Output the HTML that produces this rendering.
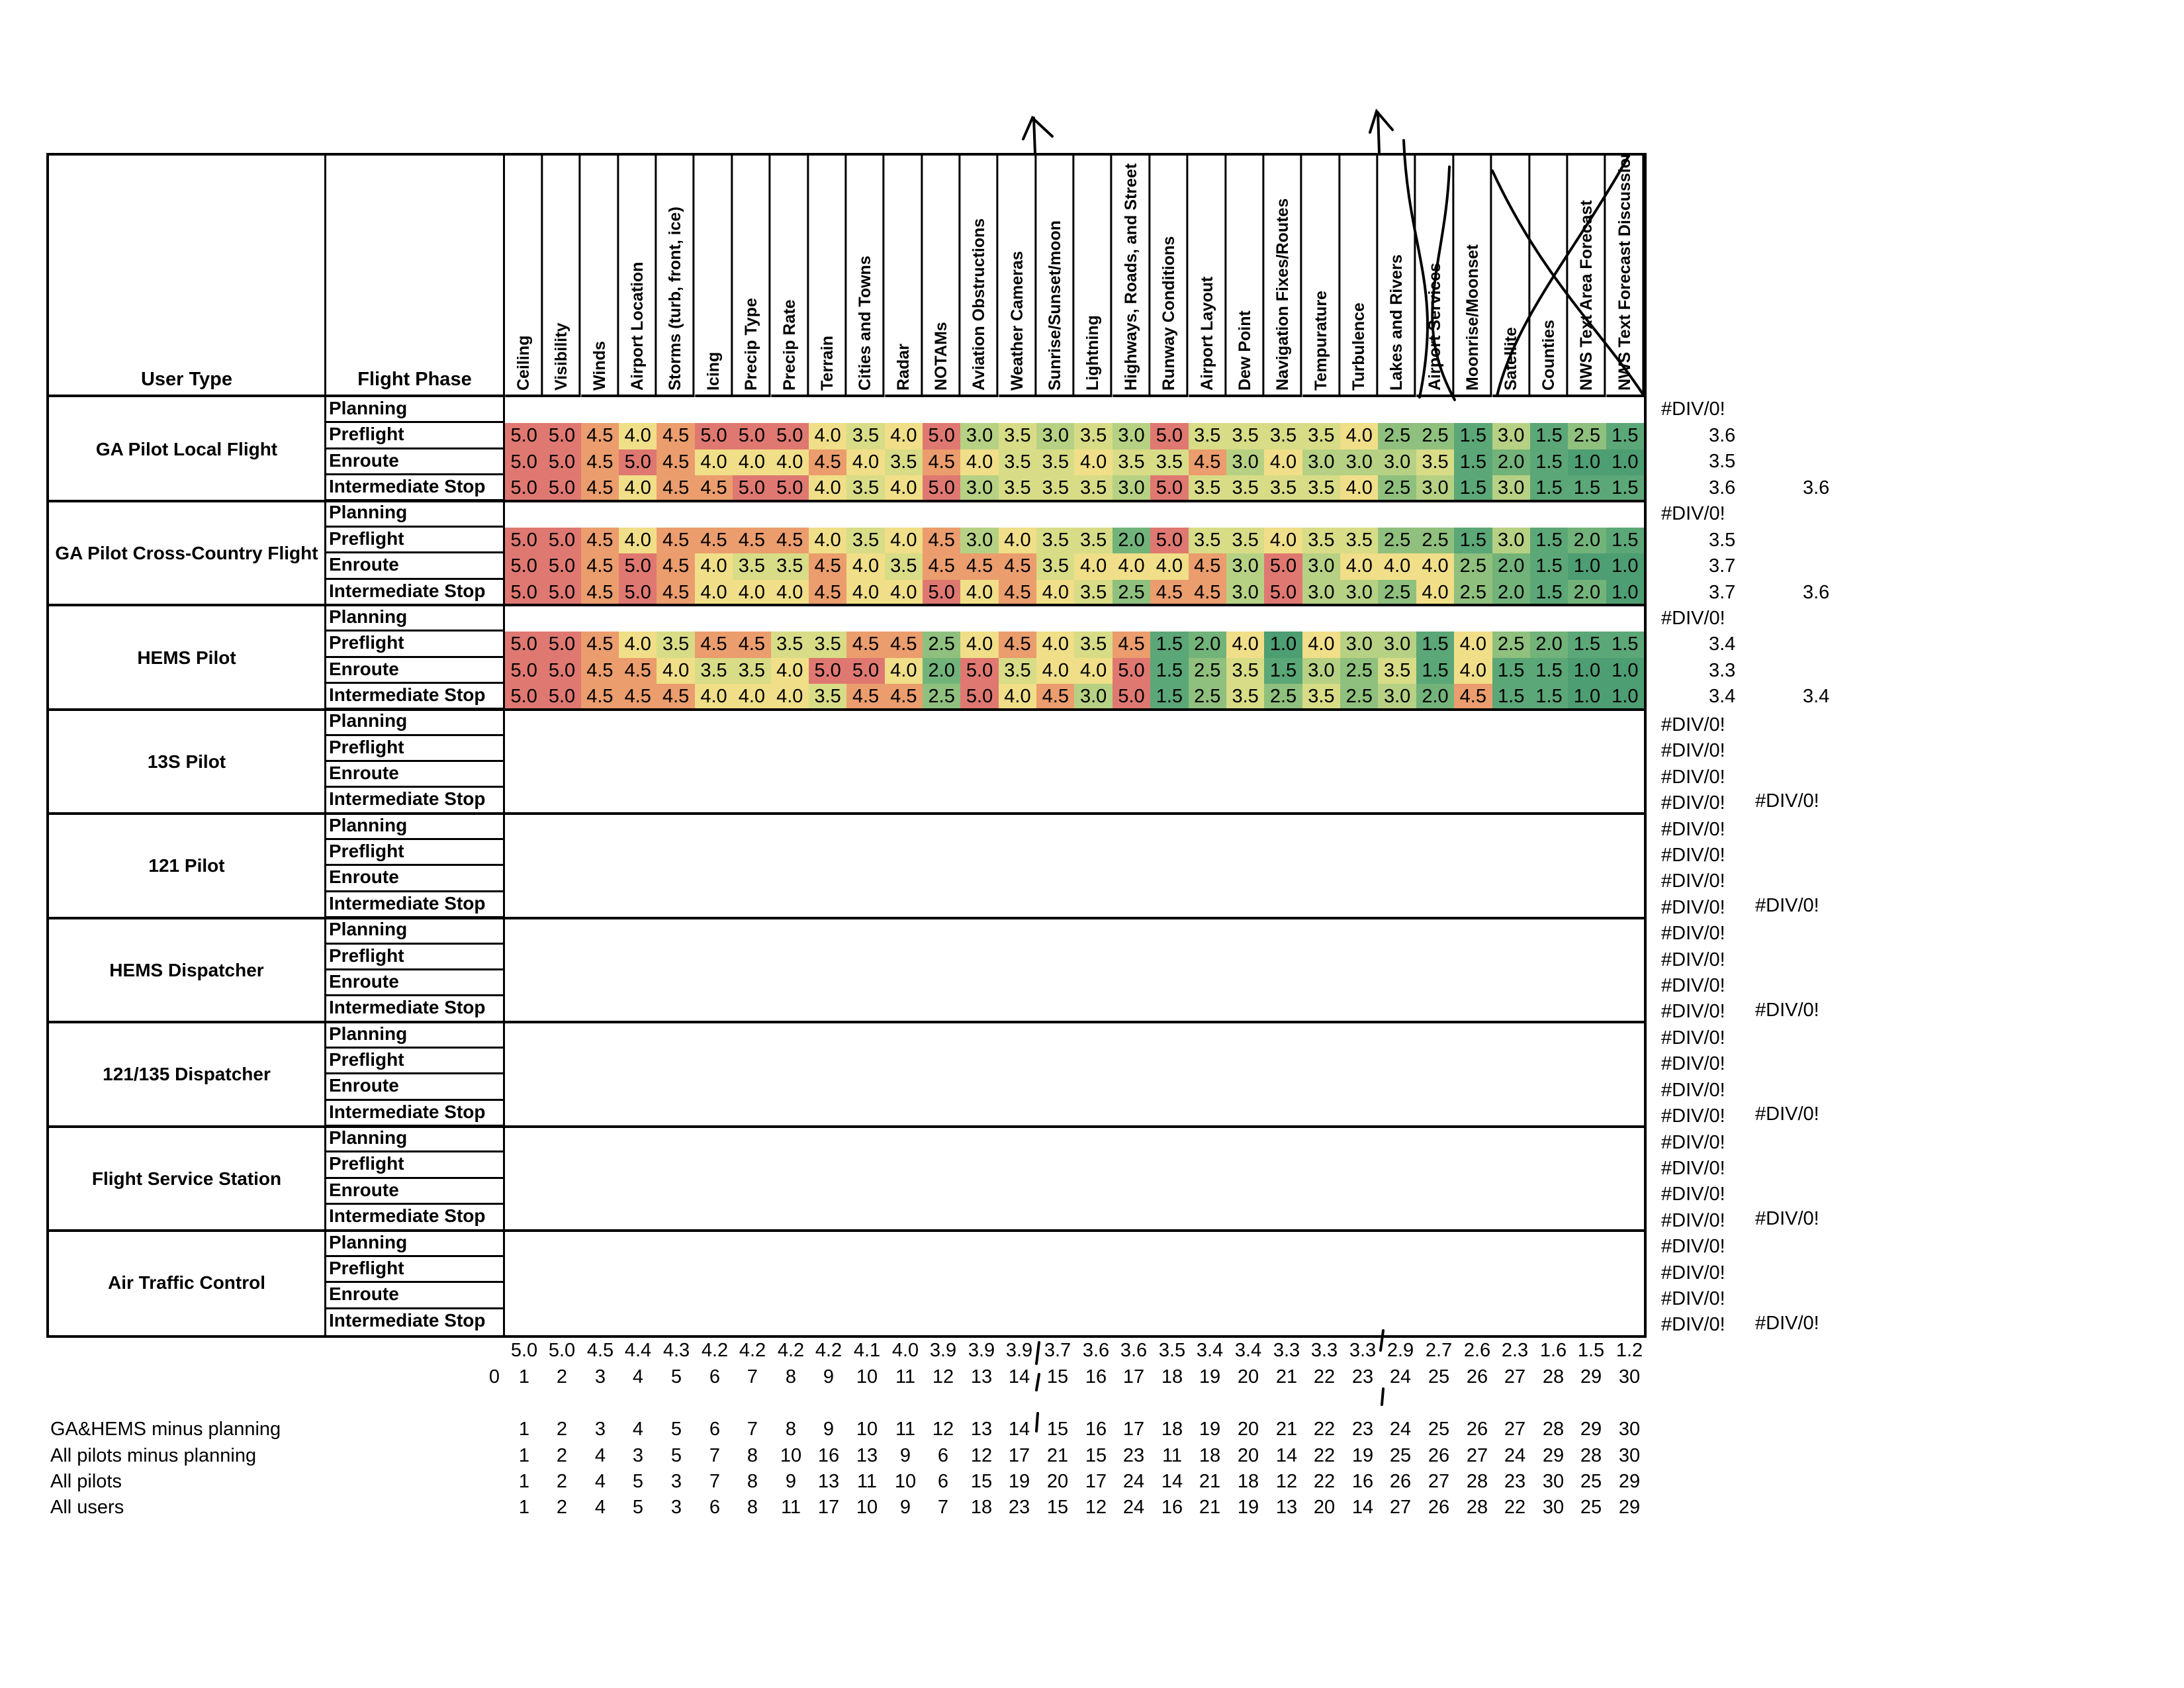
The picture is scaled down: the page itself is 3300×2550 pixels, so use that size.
<!DOCTYPE html>
<html><head><meta charset="utf-8"><style>
body{margin:0;width:3300px;height:2550px;background:#fff;position:relative;overflow:hidden;font-family:"Liberation Sans Narrow","Liberation Sans",sans-serif;color:#000}
#t{position:absolute;left:70px;top:231px;width:2418px;height:1790px;border:4px solid #000;box-sizing:border-box;display:grid;grid-template-columns:419px 270px repeat(30,1fr);grid-template-rows:365px repeat(36,1fr)}
.h0{font-weight:bold;font-size:29px;display:flex;align-items:flex-end;justify-content:center;padding-bottom:6px;border-bottom:4px solid #000;border-right:3px solid #000}
.hc{writing-mode:vertical-rl;transform:rotate(180deg);text-align:left;font-weight:bold;font-size:25px;border-left:3px solid #000;border-top:4px solid #000;padding-top:6px;line-height:57px;white-space:nowrap;overflow:hidden}
.u{grid-column:1;display:flex;align-items:center;justify-content:center;font-weight:bold;font-size:28px;border-right:3px solid #000}
.p{font-weight:bold;font-size:28px;border-bottom:3px solid #000;border-right:3px solid #000;padding-left:4px;line-height:34px;white-space:nowrap;overflow:hidden}
.e{grid-column:span 30}
#t span{font-size:29px;text-align:center;line-height:39px}
.a{background:#df7871}.b{background:#eb9d6d}.c{background:#f0df88}.d{background:#d8dc86}.f{background:#b6d183}.g{background:#8fc07d}.k{background:#72b37a}.m{background:#5ba777}.n{background:#4d9e72}
.gl{position:absolute;left:70px;width:2418px;height:4px;background:#000}
.r{position:absolute;font-size:29px;white-space:nowrap}
.row{position:absolute;left:0;font-size:29px;height:36px}
.row i{font-style:normal;position:absolute;width:58px;text-align:center}
.lb{position:absolute;left:76px;font-size:29px}
</style></head><body>
<div id="t">
<div class="h0">User Type</div><div class="h0">Flight Phase</div>
<div class="hc">Ceiling</div><div class="hc">Visibility</div><div class="hc">Winds</div><div class="hc">Airport Location</div><div class="hc">Storms (turb, front, ice)</div><div class="hc">Icing</div><div class="hc">Precip Type</div><div class="hc">Precip Rate</div><div class="hc">Terrain</div><div class="hc">Cities and Towns</div><div class="hc">Radar</div><div class="hc">NOTAMs</div><div class="hc">Aviation Obstructions</div><div class="hc">Weather Cameras</div><div class="hc">Sunrise/Sunset/moon</div><div class="hc">Lightning</div><div class="hc">Highways, Roads, and Street</div><div class="hc">Runway Conditions</div><div class="hc">Airport Layout</div><div class="hc">Dew Point</div><div class="hc">Navigation Fixes/Routes</div><div class="hc">Tempurature</div><div class="hc">Turbulence</div><div class="hc">Lakes and Rivers</div><div class="hc">Airport Services</div><div class="hc">Moonrise/Moonset</div><div class="hc">Satellite</div><div class="hc">Counties</div><div class="hc">NWS Text Area Forecast</div><div class="hc">NWS Text Forecast Discussion</div>

<div class="u" style="grid-row:2/6">GA Pilot Local Flight</div>
<div class="p">Planning</div><div class="e"></div>
<div class="p">Preflight</div><span class="a">5.0</span><span class="a">5.0</span><span class="b">4.5</span><span class="c">4.0</span><span class="b">4.5</span><span class="a">5.0</span><span class="a">5.0</span><span class="a">5.0</span><span class="c">4.0</span><span class="d">3.5</span><span class="c">4.0</span><span class="a">5.0</span><span class="f">3.0</span><span class="d">3.5</span><span class="f">3.0</span><span class="d">3.5</span><span class="f">3.0</span><span class="a">5.0</span><span class="d">3.5</span><span class="d">3.5</span><span class="d">3.5</span><span class="d">3.5</span><span class="c">4.0</span><span class="g">2.5</span><span class="g">2.5</span><span class="m">1.5</span><span class="f">3.0</span><span class="m">1.5</span><span class="g">2.5</span><span class="m">1.5</span>
<div class="p">Enroute</div><span class="a">5.0</span><span class="a">5.0</span><span class="b">4.5</span><span class="a">5.0</span><span class="b">4.5</span><span class="c">4.0</span><span class="c">4.0</span><span class="c">4.0</span><span class="b">4.5</span><span class="c">4.0</span><span class="d">3.5</span><span class="b">4.5</span><span class="c">4.0</span><span class="d">3.5</span><span class="d">3.5</span><span class="c">4.0</span><span class="d">3.5</span><span class="d">3.5</span><span class="b">4.5</span><span class="f">3.0</span><span class="c">4.0</span><span class="f">3.0</span><span class="f">3.0</span><span class="f">3.0</span><span class="d">3.5</span><span class="m">1.5</span><span class="k">2.0</span><span class="m">1.5</span><span class="n">1.0</span><span class="n">1.0</span>
<div class="p">Intermediate Stop</div><span class="a">5.0</span><span class="a">5.0</span><span class="b">4.5</span><span class="c">4.0</span><span class="b">4.5</span><span class="b">4.5</span><span class="a">5.0</span><span class="a">5.0</span><span class="c">4.0</span><span class="d">3.5</span><span class="c">4.0</span><span class="a">5.0</span><span class="f">3.0</span><span class="d">3.5</span><span class="d">3.5</span><span class="d">3.5</span><span class="f">3.0</span><span class="a">5.0</span><span class="d">3.5</span><span class="d">3.5</span><span class="d">3.5</span><span class="d">3.5</span><span class="c">4.0</span><span class="g">2.5</span><span class="f">3.0</span><span class="m">1.5</span><span class="f">3.0</span><span class="m">1.5</span><span class="m">1.5</span><span class="m">1.5</span>

<div class="u" style="grid-row:6/10">GA Pilot Cross-Country Flight</div>
<div class="p">Planning</div><div class="e"></div>
<div class="p">Preflight</div><span class="a">5.0</span><span class="a">5.0</span><span class="b">4.5</span><span class="c">4.0</span><span class="b">4.5</span><span class="b">4.5</span><span class="b">4.5</span><span class="b">4.5</span><span class="c">4.0</span><span class="d">3.5</span><span class="c">4.0</span><span class="b">4.5</span><span class="f">3.0</span><span class="c">4.0</span><span class="d">3.5</span><span class="d">3.5</span><span class="k">2.0</span><span class="a">5.0</span><span class="d">3.5</span><span class="d">3.5</span><span class="c">4.0</span><span class="d">3.5</span><span class="d">3.5</span><span class="g">2.5</span><span class="g">2.5</span><span class="m">1.5</span><span class="f">3.0</span><span class="m">1.5</span><span class="k">2.0</span><span class="m">1.5</span>
<div class="p">Enroute</div><span class="a">5.0</span><span class="a">5.0</span><span class="b">4.5</span><span class="a">5.0</span><span class="b">4.5</span><span class="c">4.0</span><span class="d">3.5</span><span class="d">3.5</span><span class="b">4.5</span><span class="c">4.0</span><span class="d">3.5</span><span class="b">4.5</span><span class="b">4.5</span><span class="b">4.5</span><span class="d">3.5</span><span class="c">4.0</span><span class="c">4.0</span><span class="c">4.0</span><span class="b">4.5</span><span class="f">3.0</span><span class="a">5.0</span><span class="f">3.0</span><span class="c">4.0</span><span class="c">4.0</span><span class="c">4.0</span><span class="g">2.5</span><span class="k">2.0</span><span class="m">1.5</span><span class="n">1.0</span><span class="n">1.0</span>
<div class="p">Intermediate Stop</div><span class="a">5.0</span><span class="a">5.0</span><span class="b">4.5</span><span class="a">5.0</span><span class="b">4.5</span><span class="c">4.0</span><span class="c">4.0</span><span class="c">4.0</span><span class="b">4.5</span><span class="c">4.0</span><span class="c">4.0</span><span class="a">5.0</span><span class="c">4.0</span><span class="b">4.5</span><span class="c">4.0</span><span class="d">3.5</span><span class="g">2.5</span><span class="b">4.5</span><span class="b">4.5</span><span class="f">3.0</span><span class="a">5.0</span><span class="f">3.0</span><span class="f">3.0</span><span class="g">2.5</span><span class="c">4.0</span><span class="g">2.5</span><span class="k">2.0</span><span class="m">1.5</span><span class="k">2.0</span><span class="n">1.0</span>

<div class="u" style="grid-row:10/14">HEMS Pilot</div>
<div class="p">Planning</div><div class="e"></div>
<div class="p">Preflight</div><span class="a">5.0</span><span class="a">5.0</span><span class="b">4.5</span><span class="c">4.0</span><span class="d">3.5</span><span class="b">4.5</span><span class="b">4.5</span><span class="d">3.5</span><span class="d">3.5</span><span class="b">4.5</span><span class="b">4.5</span><span class="g">2.5</span><span class="c">4.0</span><span class="b">4.5</span><span class="c">4.0</span><span class="d">3.5</span><span class="b">4.5</span><span class="m">1.5</span><span class="k">2.0</span><span class="c">4.0</span><span class="n">1.0</span><span class="c">4.0</span><span class="f">3.0</span><span class="f">3.0</span><span class="m">1.5</span><span class="c">4.0</span><span class="g">2.5</span><span class="k">2.0</span><span class="m">1.5</span><span class="m">1.5</span>
<div class="p">Enroute</div><span class="a">5.0</span><span class="a">5.0</span><span class="b">4.5</span><span class="b">4.5</span><span class="c">4.0</span><span class="d">3.5</span><span class="d">3.5</span><span class="c">4.0</span><span class="a">5.0</span><span class="a">5.0</span><span class="c">4.0</span><span class="k">2.0</span><span class="a">5.0</span><span class="d">3.5</span><span class="c">4.0</span><span class="c">4.0</span><span class="a">5.0</span><span class="m">1.5</span><span class="g">2.5</span><span class="d">3.5</span><span class="m">1.5</span><span class="f">3.0</span><span class="g">2.5</span><span class="d">3.5</span><span class="m">1.5</span><span class="c">4.0</span><span class="m">1.5</span><span class="m">1.5</span><span class="n">1.0</span><span class="n">1.0</span>
<div class="p">Intermediate Stop</div><span class="a">5.0</span><span class="a">5.0</span><span class="b">4.5</span><span class="b">4.5</span><span class="b">4.5</span><span class="c">4.0</span><span class="c">4.0</span><span class="c">4.0</span><span class="d">3.5</span><span class="b">4.5</span><span class="b">4.5</span><span class="g">2.5</span><span class="a">5.0</span><span class="c">4.0</span><span class="b">4.5</span><span class="f">3.0</span><span class="a">5.0</span><span class="m">1.5</span><span class="g">2.5</span><span class="d">3.5</span><span class="g">2.5</span><span class="d">3.5</span><span class="g">2.5</span><span class="f">3.0</span><span class="k">2.0</span><span class="b">4.5</span><span class="m">1.5</span><span class="m">1.5</span><span class="n">1.0</span><span class="n">1.0</span>

<div class="u" style="grid-row:14/18">13S Pilot</div>
<div class="p">Planning</div><div class="e"></div><div class="p">Preflight</div><div class="e"></div><div class="p">Enroute</div><div class="e"></div><div class="p">Intermediate Stop</div><div class="e"></div>
<div class="u" style="grid-row:18/22">121 Pilot</div>
<div class="p">Planning</div><div class="e"></div><div class="p">Preflight</div><div class="e"></div><div class="p">Enroute</div><div class="e"></div><div class="p">Intermediate Stop</div><div class="e"></div>
<div class="u" style="grid-row:22/26">HEMS Dispatcher</div>
<div class="p">Planning</div><div class="e"></div><div class="p">Preflight</div><div class="e"></div><div class="p">Enroute</div><div class="e"></div><div class="p">Intermediate Stop</div><div class="e"></div>
<div class="u" style="grid-row:26/30">121/135 Dispatcher</div>
<div class="p">Planning</div><div class="e"></div><div class="p">Preflight</div><div class="e"></div><div class="p">Enroute</div><div class="e"></div><div class="p">Intermediate Stop</div><div class="e"></div>
<div class="u" style="grid-row:30/34">Flight Service Station</div>
<div class="p">Planning</div><div class="e"></div><div class="p">Preflight</div><div class="e"></div><div class="p">Enroute</div><div class="e"></div><div class="p">Intermediate Stop</div><div class="e"></div>
<div class="u" style="grid-row:34/38">Air Traffic Control</div>
<div class="p">Planning</div><div class="e"></div><div class="p">Preflight</div><div class="e"></div><div class="p">Enroute</div><div class="e"></div><div class="p" style="border-bottom:none">Intermediate Stop</div><div class="e"></div>
</div>

<div class="gl" style="top:755px"></div><div class="gl" style="top:912px"></div><div class="gl" style="top:1070px"></div><div class="gl" style="top:1227px"></div><div class="gl" style="top:1385px"></div><div class="gl" style="top:1542px"></div><div class="gl" style="top:1700px"></div><div class="gl" style="top:1857px"></div>

<div class="r" style="left:2510px;top:602px">#DIV/0!</div>
<div class="r" style="left:2582px;top:642px">3.6</div><div class="r" style="left:2582px;top:681px">3.5</div><div class="r" style="left:2582px;top:721px">3.6</div><div class="r" style="left:2724px;top:721px">3.6</div>
<div class="r" style="left:2510px;top:760px">#DIV/0!</div>
<div class="r" style="left:2582px;top:800px">3.5</div><div class="r" style="left:2582px;top:839px">3.7</div><div class="r" style="left:2582px;top:879px">3.7</div><div class="r" style="left:2724px;top:879px">3.6</div>
<div class="r" style="left:2510px;top:918px">#DIV/0!</div>
<div class="r" style="left:2582px;top:957px">3.4</div><div class="r" style="left:2582px;top:997px">3.3</div><div class="r" style="left:2582px;top:1036px">3.4</div><div class="r" style="left:2724px;top:1036px">3.4</div>
<div class="r" style="left:2510px;top:1076px;line-height:39.4px">#DIV/0!<br>#DIV/0!<br>#DIV/0!<br>#DIV/0!<br>#DIV/0!<br>#DIV/0!<br>#DIV/0!<br>#DIV/0!<br>#DIV/0!<br>#DIV/0!<br>#DIV/0!<br>#DIV/0!<br>#DIV/0!<br>#DIV/0!<br>#DIV/0!<br>#DIV/0!<br>#DIV/0!<br>#DIV/0!<br>#DIV/0!<br>#DIV/0!<br>#DIV/0!<br>#DIV/0!<br>#DIV/0!<br>#DIV/0!</div>
<div class="r" style="left:2652px;top:1194px">#DIV/0!</div><div class="r" style="left:2652px;top:1352px">#DIV/0!</div><div class="r" style="left:2652px;top:1510px">#DIV/0!</div><div class="r" style="left:2652px;top:1667px">#DIV/0!</div><div class="r" style="left:2652px;top:1825px">#DIV/0!</div><div class="r" style="left:2652px;top:1983px">#DIV/0!</div>

<div class="row" style="top:2024px"><i style="left:763px">5.0</i><i style="left:820px">5.0</i><i style="left:878px">4.5</i><i style="left:935px">4.4</i><i style="left:993px">4.3</i><i style="left:1051px">4.2</i><i style="left:1108px">4.2</i><i style="left:1166px">4.2</i><i style="left:1223px">4.2</i><i style="left:1281px">4.1</i><i style="left:1339px">4.0</i><i style="left:1396px">3.9</i><i style="left:1454px">3.9</i><i style="left:1511px">3.9</i><i style="left:1569px">3.7</i><i style="left:1627px">3.6</i><i style="left:1684px">3.6</i><i style="left:1742px">3.5</i><i style="left:1799px">3.4</i><i style="left:1857px">3.4</i><i style="left:1915px">3.3</i><i style="left:1972px">3.3</i><i style="left:2030px">3.3</i><i style="left:2087px">2.9</i><i style="left:2145px">2.7</i><i style="left:2203px">2.6</i><i style="left:2260px">2.3</i><i style="left:2318px">1.6</i><i style="left:2375px">1.5</i><i style="left:2433px">1.2</i></div>
<div class="row" style="top:2064px"><i style="left:718px">0</i><i style="left:763px">1</i><i style="left:820px">2</i><i style="left:878px">3</i><i style="left:935px">4</i><i style="left:993px">5</i><i style="left:1051px">6</i><i style="left:1108px">7</i><i style="left:1166px">8</i><i style="left:1223px">9</i><i style="left:1281px">10</i><i style="left:1339px">11</i><i style="left:1396px">12</i><i style="left:1454px">13</i><i style="left:1511px">14</i><i style="left:1569px">15</i><i style="left:1627px">16</i><i style="left:1684px">17</i><i style="left:1742px">18</i><i style="left:1799px">19</i><i style="left:1857px">20</i><i style="left:1915px">21</i><i style="left:1972px">22</i><i style="left:2030px">23</i><i style="left:2087px">24</i><i style="left:2145px">25</i><i style="left:2203px">26</i><i style="left:2260px">27</i><i style="left:2318px">28</i><i style="left:2375px">29</i><i style="left:2433px">30</i></div>
<div class="lb" style="top:2143px">GA&amp;HEMS minus planning</div>
<div class="row" style="top:2143px"><i style="left:763px">1</i><i style="left:820px">2</i><i style="left:878px">3</i><i style="left:935px">4</i><i style="left:993px">5</i><i style="left:1051px">6</i><i style="left:1108px">7</i><i style="left:1166px">8</i><i style="left:1223px">9</i><i style="left:1281px">10</i><i style="left:1339px">11</i><i style="left:1396px">12</i><i style="left:1454px">13</i><i style="left:1511px">14</i><i style="left:1569px">15</i><i style="left:1627px">16</i><i style="left:1684px">17</i><i style="left:1742px">18</i><i style="left:1799px">19</i><i style="left:1857px">20</i><i style="left:1915px">21</i><i style="left:1972px">22</i><i style="left:2030px">23</i><i style="left:2087px">24</i><i style="left:2145px">25</i><i style="left:2203px">26</i><i style="left:2260px">27</i><i style="left:2318px">28</i><i style="left:2375px">29</i><i style="left:2433px">30</i></div>
<div class="lb" style="top:2183px">All pilots minus planning</div>
<div class="row" style="top:2183px"><i style="left:763px">1</i><i style="left:820px">2</i><i style="left:878px">4</i><i style="left:935px">3</i><i style="left:993px">5</i><i style="left:1051px">7</i><i style="left:1108px">8</i><i style="left:1166px">10</i><i style="left:1223px">16</i><i style="left:1281px">13</i><i style="left:1339px">9</i><i style="left:1396px">6</i><i style="left:1454px">12</i><i style="left:1511px">17</i><i style="left:1569px">21</i><i style="left:1627px">15</i><i style="left:1684px">23</i><i style="left:1742px">11</i><i style="left:1799px">18</i><i style="left:1857px">20</i><i style="left:1915px">14</i><i style="left:1972px">22</i><i style="left:2030px">19</i><i style="left:2087px">25</i><i style="left:2145px">26</i><i style="left:2203px">27</i><i style="left:2260px">24</i><i style="left:2318px">29</i><i style="left:2375px">28</i><i style="left:2433px">30</i></div>
<div class="lb" style="top:2222px">All pilots</div>
<div class="row" style="top:2222px"><i style="left:763px">1</i><i style="left:820px">2</i><i style="left:878px">4</i><i style="left:935px">5</i><i style="left:993px">3</i><i style="left:1051px">7</i><i style="left:1108px">8</i><i style="left:1166px">9</i><i style="left:1223px">13</i><i style="left:1281px">11</i><i style="left:1339px">10</i><i style="left:1396px">6</i><i style="left:1454px">15</i><i style="left:1511px">19</i><i style="left:1569px">20</i><i style="left:1627px">17</i><i style="left:1684px">24</i><i style="left:1742px">14</i><i style="left:1799px">21</i><i style="left:1857px">18</i><i style="left:1915px">12</i><i style="left:1972px">22</i><i style="left:2030px">16</i><i style="left:2087px">26</i><i style="left:2145px">27</i><i style="left:2203px">28</i><i style="left:2260px">23</i><i style="left:2318px">30</i><i style="left:2375px">25</i><i style="left:2433px">29</i></div>
<div class="lb" style="top:2261px">All users</div>
<div class="row" style="top:2261px"><i style="left:763px">1</i><i style="left:820px">2</i><i style="left:878px">4</i><i style="left:935px">5</i><i style="left:993px">3</i><i style="left:1051px">6</i><i style="left:1108px">8</i><i style="left:1166px">11</i><i style="left:1223px">17</i><i style="left:1281px">10</i><i style="left:1339px">9</i><i style="left:1396px">7</i><i style="left:1454px">18</i><i style="left:1511px">23</i><i style="left:1569px">15</i><i style="left:1627px">12</i><i style="left:1684px">24</i><i style="left:1742px">16</i><i style="left:1799px">21</i><i style="left:1857px">19</i><i style="left:1915px">13</i><i style="left:1972px">20</i><i style="left:2030px">14</i><i style="left:2087px">27</i><i style="left:2145px">26</i><i style="left:2203px">28</i><i style="left:2260px">22</i><i style="left:2318px">30</i><i style="left:2375px">25</i><i style="left:2433px">29</i></div>

<svg style="position:absolute;left:0;top:0" width="3300" height="2550" fill="none" stroke="#000" stroke-width="4" stroke-linecap="round">
<path d="M1564 232 L1562 178 M1546 210 L1560 178 L1590 206"/>
<path d="M2084 232 L2082 170 M2070 200 L2080 168 L2104 196"/>
<path d="M1570 2028 L1566 2060 M1570 2076 L1566 2100 M1568 2135 L1566 2162"/>
<path d="M2090 2010 L2086 2040 M2090 2098 L2088 2122"/>
<path d="M2121 212 C2128 380 2180 430 2145 600"/>
<path d="M2190 252 C2185 400 2130 480 2198 604"/>
<path d="M2255 258 C2330 420 2420 500 2484 598"/>
<path d="M2460 237 C2380 380 2290 480 2262 598"/>
</svg>
</body></html>
